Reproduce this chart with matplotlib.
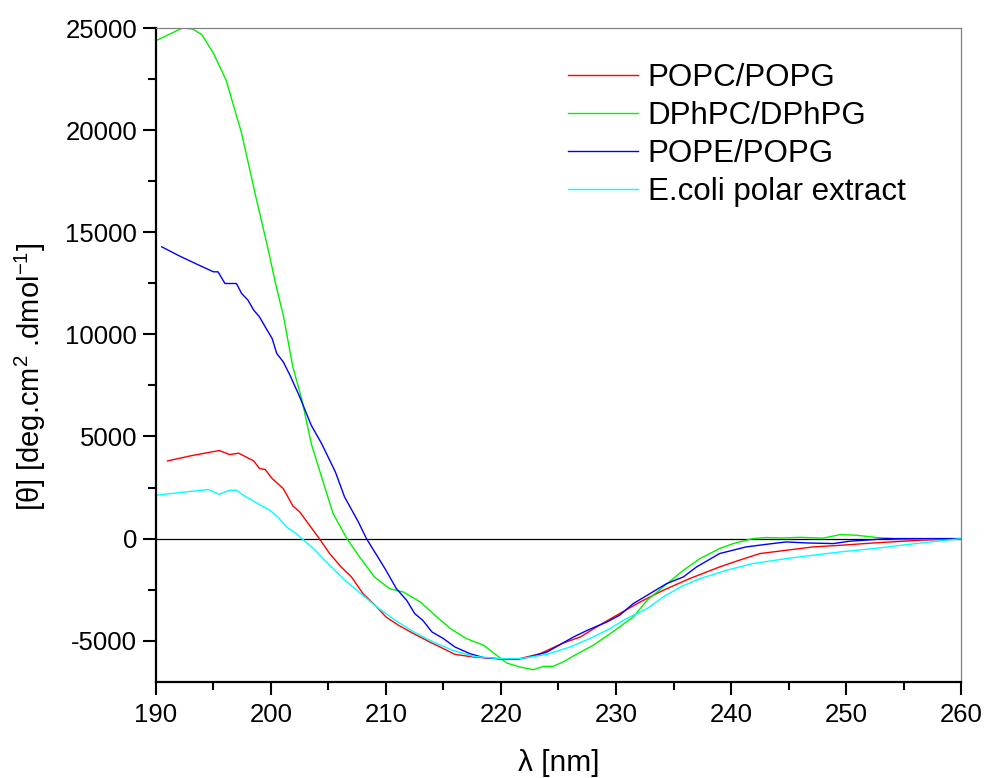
import matplotlib
matplotlib.use("Agg")
import matplotlib.pyplot as plt
from matplotlib.ticker import MultipleLocator

plt.rcParams['font.family'] = ['Liberation Sans', 'DejaVu Sans']
plt.rcParams['axes.unicode_minus'] = False

# POPC/POPG
popc_wl = [191, 193, 195.5, 196.4, 197.2, 198.5, 199.0, 199.5, 200.1, 201.07, 201.9, 202.5,
           204.2, 205.1, 206.1, 207.0, 208.0, 209.2, 210.0, 211.1, 212.4, 213.8, 215.0, 216.0,
           217.6, 219.9, 221.65, 223.4, 225.4, 226.9, 228.3, 230.3, 232.1, 234.1, 236.4, 239.0,
           240.5, 242.5, 244.8, 247.1, 249.5, 252.4, 256.4, 260]
popc_theta = [3802, 4050, 4311, 4115, 4180, 3802, 3429, 3380, 2940, 2450, 1600, 1304,
              0, -735, -1390, -1880, -2695, -3350, -3840, -4248, -4655, -5065, -5390, -5670,
              -5800, -5880, -5880, -5635, -5115, -4820, -4330, -3675, -3105, -2533, -1960, -1390,
              -1100, -735, -573, -410, -330, -215, -83, 0]

# DPhPC/DPhPG
dphpc_wl = [190, 191, 192.3, 193.2, 194, 195, 196.1, 197.45, 198.75, 199.7, 200.4, 201.1,
            201.9, 202.7, 203.5, 204.4, 205.4, 206.6, 207.3, 207.7, 209.0, 210.3, 211.5, 213.0,
            214.1, 215.6, 217.0, 218.5, 220.5, 221.65, 222.8, 223.7, 224.5, 225.4, 226.4, 228.0,
            229.5, 231.5, 232.7, 234.1, 235.85, 237.3, 239.0, 240.2, 241.9, 243, 244.5, 246,
            248, 249.5, 250.9, 252.7, 254.5, 256.5, 258, 260]
dphpc_theta = [24380, 24650, 25000, 24950, 24670, 23760, 22450, 19840, 16575, 14300, 12490, 10857,
               8408, 6776, 4654, 3018, 1225, 0, -573, -900, -1880, -2450, -2615, -3105,
               -3675, -4410, -4900, -5228, -6095, -6290, -6420, -6257, -6257, -6045, -5717, -5228,
               -4655, -3840, -3023, -2370, -1553, -980, -490, -245, 0, 50, 30, 60,
               20, 196, 163, 50, -20, -40, -20, 0]

# POPE/POPG
pope_wl = [190.5, 192, 193.5, 195.0, 195.4, 196.0, 197.0, 197.45, 198.0, 198.5, 199.0, 199.5,
           200.1, 200.5, 201.07, 201.65, 202.5, 203.5, 204.4, 205.6, 206.4, 207.6, 208.3, 209.2,
           210.0, 210.9, 211.8, 212.5, 213.2, 214.0, 215.0, 216.0, 217.3, 218.5, 220, 221.4,
           222.5, 224.0, 226.3, 227.5, 229.2, 230.3, 231.5, 232.7, 234.4, 235.85, 237.0, 239.0,
           241.3, 243.1, 244.8, 246.6, 248.9, 250.3, 252.4, 253.5, 256.4, 260]
pope_theta = [14287, 13850, 13450, 13062, 13062, 12490, 12490, 12000, 11675, 11185, 10857, 10367,
              9800, 9064, 8652, 8000, 6938, 5551, 4654, 3263, 2038, 813, 0, -818,
              -1553, -2450, -3023, -3675, -4003, -4573, -4900, -5310, -5635, -5830, -5900, -5915,
              -5800, -5555, -4820, -4493, -4085, -3758, -3185, -2780, -2205, -1880, -1390, -735,
              -410, -280, -165, -215, -245, -130, -50, 0, 0, 0]

# E.coli polar extract
ecoli_wl = [190, 192, 194.55, 195.5, 196.4, 197.0, 197.6, 198.3, 198.6, 199.9, 200.6, 201.35,
            202.2, 202.67, 203.7, 205.1, 206.6, 208.0, 209.2, 210.6, 212.4, 214.1, 215.8, 217.6,
            219.9, 221.65, 224.0, 226.0, 227.7, 229.2, 230.9, 232.7, 234.1, 235.6, 237.3, 239.6,
            241.9, 244.8, 247.1, 249.5, 252.4, 255.3, 260]
ecoli_theta = [2121, 2250, 2400, 2170, 2366, 2366, 2121, 1900, 1794, 1386, 1058, 568,
               245, 0, -490, -1308, -2125, -2780, -3350, -3920, -4573, -5065, -5472, -5766,
               -5880, -5880, -5670, -5310, -4900, -4493, -3920, -3430, -2860, -2370, -1960, -1553,
               -1225, -980, -818, -655, -490, -294, 0]

labels = ["POPC/POPG", "DPhPC/DPhPG", "POPE/POPG", "E.coli polar extract"]
colors = ["#ff0000", "#00f000", "#0000ff", "#00ffff"]

fig = plt.figure(figsize=(9.87, 7.78), dpi=100)
ax = fig.add_axes([0.158, 0.124, 0.8157, 0.840])

series = [(popc_wl, popc_theta), (dphpc_wl, dphpc_theta),
          (pope_wl, pope_theta), (ecoli_wl, ecoli_theta)]
for (wl, th), lab, col in zip(series, labels, colors):
    ax.plot(wl, th, color=col, lw=1.0, label=lab)

ax.axhline(0, color='black', lw=0.9, zorder=1)

ax.set_xlim(190, 260)
ax.set_ylim(-7000, 25000)
ax.xaxis.set_major_locator(MultipleLocator(10))
ax.xaxis.set_minor_locator(MultipleLocator(5))
ax.yaxis.set_major_locator(MultipleLocator(5000))
ax.yaxis.set_minor_locator(MultipleLocator(2500))

for side in ('left', 'bottom'):
    ax.spines[side].set_color('black')
    ax.spines[side].set_linewidth(1.6)
for side in ('top', 'right'):
    ax.spines[side].set_color('#808080')
    ax.spines[side].set_linewidth(0.9)

ax.tick_params(which='major', direction='out', length=9.5, width=1.5, labelsize=18.5)
ax.tick_params(axis='y', which='major', pad=4)
ax.tick_params(axis='x', which='major', pad=6)
ax.tick_params(which='minor', direction='out', length=5.5, width=1.5)
ax.tick_params(top=False, right=False, which='both')

ax.set_xlabel("λ [nm]", fontsize=21.5)
ax.xaxis.set_label_coords(0.5, -0.103)
ax.set_ylabel(r"[θ] [deg.cm$\mathregular{^2}$ .dmol$\mathregular{^{-1}}$]", fontsize=21)
ax.yaxis.set_label_coords(-0.134, 0.466)

ax.legend(loc='upper left', bbox_to_anchor=(0.496, 0.965), frameon=False, fontsize=22.5,
          handlelength=2.24, handletextpad=0.32, labelspacing=0.25, borderaxespad=0)

fig.savefig("out.png", dpi=100)
